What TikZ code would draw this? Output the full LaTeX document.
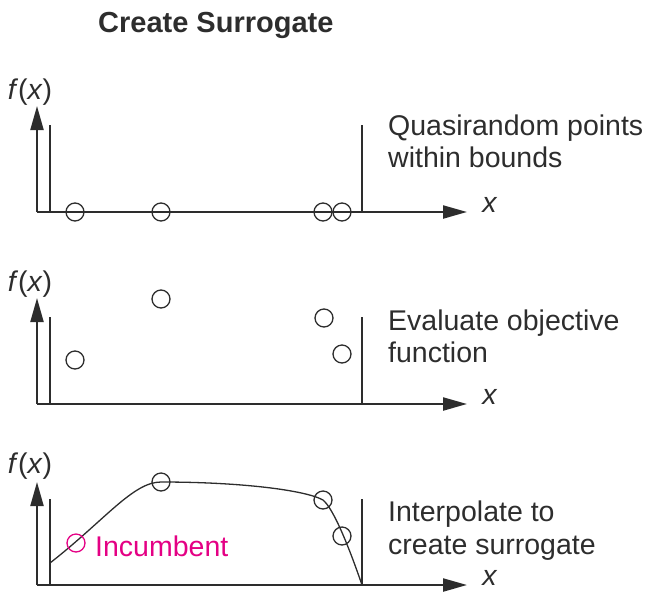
\documentclass[tikz,border=0pt]{standalone}
\usepackage{fontspec}
\setmainfont{Liberation Sans}
\usetikzlibrary{arrows.meta}
\definecolor{ink}{RGB}{45,45,45}
\definecolor{mag}{RGB}{228,0,132}
\begin{document}
\begin{tikzpicture}[x=1pt,y=-1pt,
  axis/.style={draw=ink,line width=2.2pt,-{Triangle[length=24pt,width=13pt]}},
  bound/.style={draw=ink,line width=2pt},
  pt/.style={circle,draw=ink,line width=1.3pt,minimum size=18pt,inner sep=0pt},
  lbl/.style={font=\fontsize{28.5}{32}\selectfont,text=ink,inner sep=0pt,anchor=base west},
  fx/.style={font=\fontsize{28.5}{32}\selectfont,text=ink,inner sep=0pt},
  curve/.style={draw=ink,line width=1.3pt}]
\useasboundingbox (0,0) rectangle (652,592);
\node[font=\bfseries\fontsize{29}{34}\selectfont,text=ink,inner sep=0pt,anchor=base west] (title) at (98,32) {Create Surrogate};

% ---------- panel 1 ----------
\coordinate (o1) at (37,212);
\coordinate (y1) at (37,106);
\coordinate (x1) at (467,212);
\coordinate (l1b) at (50,212); \coordinate (l1t) at (50,125);
\coordinate (r1b) at (362,212); \coordinate (r1t) at (362,125);
\draw[axis] (o1) -- (y1);
\draw[axis] (o1) -- (x1);
\draw[bound] (l1b) -- (l1t);
\draw[bound] (r1b) -- (r1t);
\node[fx] (fx1) at (30,92) {\textit{f}(\textit{x})};
\node[fx] (xl1) at (490,205) {\textit{x}};
\node[pt] (p11) at (75,212) {};
\node[pt] (p12) at (161,212) {};
\node[pt] (p13) at (323,212) {};
\node[pt] (p14) at (342,212) {};
\node[lbl] (t11) at (388,135) {Quasirandom points};
\node[lbl] (t12) at (388,167) {within bounds};

% ---------- panel 2 ----------
\coordinate (o2) at (37,404);
\coordinate (y2) at (37,298);
\coordinate (x2) at (467,404);
\coordinate (l2b) at (50,404); \coordinate (l2t) at (50,317);
\coordinate (r2b) at (362,404); \coordinate (r2t) at (362,317);
\draw[axis] (o2) -- (y2);
\draw[axis] (o2) -- (x2);
\draw[bound] (l2b) -- (l2t);
\draw[bound] (r2b) -- (r2t);
\node[fx] (fx2) at (30,284) {\textit{f}(\textit{x})};
\node[fx] (xl2) at (490,397) {\textit{x}};
\node[pt] (p21) at (75,360) {};
\node[pt] (p22) at (161,299) {};
\node[pt] (p23) at (324,318) {};
\node[pt] (p24) at (342,354) {};
\node[lbl] (t21) at (388,330) {Evaluate objective};
\node[lbl] (t22) at (388,362) {function};

% ---------- panel 3 ----------
\coordinate (o3) at (37,585);
\coordinate (y3) at (37,482);
\coordinate (x3) at (467,585);
\coordinate (l3b) at (50,585); \coordinate (l3t) at (50,499);
\coordinate (r3b) at (362,585); \coordinate (r3t) at (362,499);
\draw[axis] (o3) -- (y3);
\draw[axis] (o3) -- (x3);
\draw[bound] (l3b) -- (l3t);
\draw[bound] (r3b) -- (r3t);
\node[fx] (fx3) at (30,466) {\textit{f}(\textit{x})};
\node[fx] (xl3) at (490,578) {\textit{x}};
\coordinate (c0) at (50,563);
\coordinate (c2) at (161,482);
\coordinate (c3) at (323,500);
\draw[curve] (c0) .. controls (105,520) and (133,482) .. (c2)
  .. controls (240,482) and (305,490) .. (c3)
  .. controls (334,509) and (350,550) .. (r3b);
\node[pt,draw=mag] (p31) at (76,543) {};
\node[pt] (p32) at (161,482) {};
\node[pt] (p33) at (323,500) {};
\node[pt] (p34) at (342,536) {};
\node[lbl,text=mag] (inc) at (95,556) {Incumbent};
\node[lbl] (t31) at (388,521) {Interpolate to};
\node[lbl] (t32) at (388,554) {create surrogate};
\end{tikzpicture}
\end{document}
